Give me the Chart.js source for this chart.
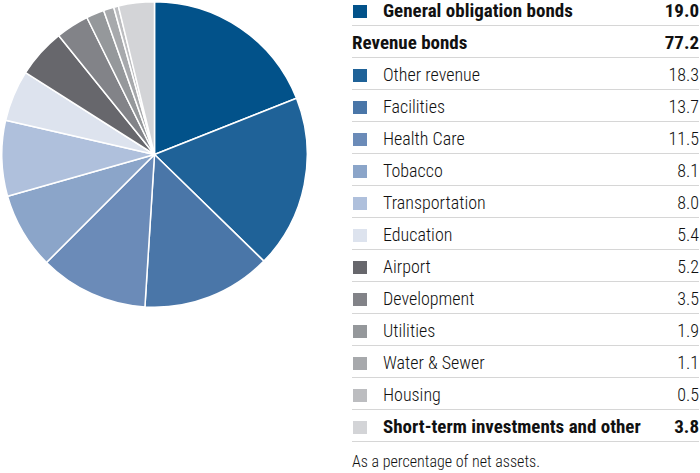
<!DOCTYPE html>
<html>
<head>
<meta charset="utf-8">
<script src="https://cdn.jsdelivr.net/npm/chart.js@4"></script>
<style>
  body { margin: 0; width: 700px; height: 473px; background: #fff; position: relative; overflow: hidden;
         font-family: "Roboto Condensed", "Roboto", sans-serif; color: #111; }
  #pieWrap { position: absolute; left: 1px; top: 1px; width: 307px; height: 307px; }
  #legend { position: absolute; left: 352px; top: -6px; width: 347px; }
  .row { position: relative; height: 31px; border-bottom: 1px solid #d6d6d6; font-size: 18px; line-height: 33px; font-weight: 300; }
  .sw { position: absolute; left: 1px; top: 11px; width: 14px; height: 13px; }
  .lbl { position: absolute; left: 31px; top: 0; }
  .lbl.nosw { left: 0; }
  .val { position: absolute; right: 0; top: 0; }
  .bold { font-weight: bold; font-size: 19px; }
  #note { position: absolute; left: 352px; top: 452px; font-size: 16px; font-weight: 300; }
</style>
</head>
<body>
<div id="pieWrap"><canvas id="pieChart" width="307" height="307"></canvas></div>
<div id="legend"></div>
<div id="note">As a percentage of net assets.</div>
<script>
// pie slices, clockwise from 12 o'clock
const labels = ["General obligation bonds", "Other revenue", "Facilities", "Health Care", "Tobacco",
  "Transportation", "Education", "Airport", "Development", "Utilities", "Water & Sewer", "Housing",
  "Short-term investments and other"];
const values = [19.0, 18.3, 13.7, 11.5, 8.1, 8.0, 5.4, 5.2, 3.5, 1.9, 1.1, 0.5, 3.8];
const colors = ["#02528a", "#1f6298", "#4a76a8", "#6b8bb8", "#8ba5c9", "#afc0dc", "#dde3ee",
  "#67676c", "#828388", "#95989b", "#a7a9ac", "#bcbdc0", "#d3d4d7"];

// legend table rows (subtotal row has no swatch)
const revenueLabel = "Revenue bonds";
const revenueTotal = 77.2;
const boldRows = ["General obligation bonds", "Short-term investments and other"];

const legend = document.getElementById("legend");
function addRow(label, value, color, bold) {
  const row = document.createElement("div");
  row.className = "row" + (bold ? " bold" : "");
  if (color) {
    const sw = document.createElement("div");
    sw.className = "sw";
    sw.style.background = color;
    row.appendChild(sw);
  }
  const l = document.createElement("div");
  l.className = "lbl" + (color ? "" : " nosw");
  l.textContent = label;
  const v = document.createElement("div");
  v.className = "val";
  v.textContent = value.toFixed(1);
  row.appendChild(l);
  row.appendChild(v);
  legend.appendChild(row);
}
labels.forEach((lab, i) => {
  addRow(lab, values[i], colors[i], boldRows.includes(lab));
  if (i === 0) addRow(revenueLabel, revenueTotal, null, true);
});

new Chart(document.getElementById("pieChart").getContext("2d"), {
  type: "pie",
  data: {
    labels: labels,
    datasets: [{
      data: values,
      backgroundColor: colors,
      borderColor: "#ffffff",
      borderWidth: 1.5
    }]
  },
  options: {
    responsive: false,
    animation: false,
    layout: { padding: 0 },
    plugins: { legend: { display: false }, tooltip: { enabled: false } }
  }
});
</script>
</body>
</html>
